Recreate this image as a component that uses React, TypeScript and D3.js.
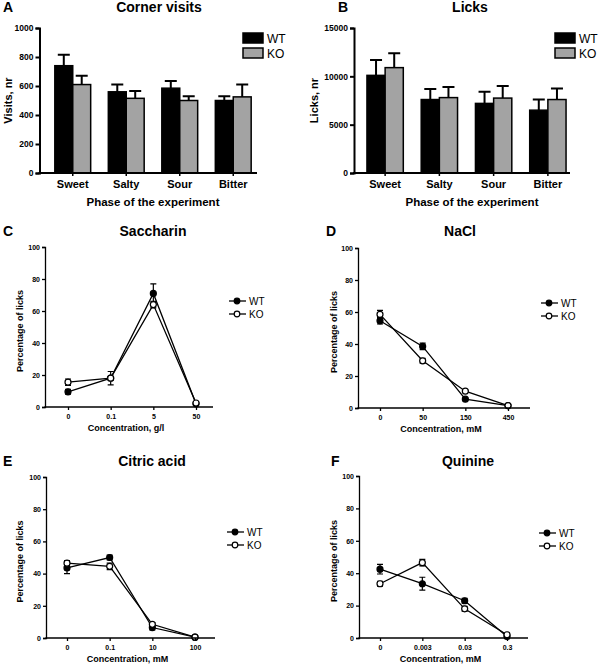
import * as d3 from "d3";
import { useEffect, useRef } from "react";

// bar panels (A, B)
const phases = ["Sweet", "Salty", "Sour", "Bitter"];
const visitsWT = [740, 560, 585, 500];
const visitsWTErr = [75, 50, 50, 30];
const visitsKO = [610, 515, 500, 525];
const visitsKOErr = [60, 50, 30, 85];
const visitsTicks = [0, 200, 400, 600, 800, 1000];

const licksWT = [10100, 7600, 7200, 6500];
const licksWTErr = [1600, 1100, 1200, 1100];
const licksKO = [10900, 7800, 7750, 7600];
const licksKOErr = [1500, 1100, 1250, 1150];
const licksTicks = [0, 5000, 10000, 15000];

// line panels (C-F), percentage of licks
const pctTicks = [0, 20, 40, 60, 80, 100];

const saccharinConc = ["0", "0.1", "5", "50"];
const saccharinWT = [9.5, 18, 71, 2];
const saccharinWTErr = [1.5, 4.2, 6, 0.5];
const saccharinKO = [15.5, 18, 64, 2.5];
const saccharinKOErr = [2, 1, 2, 0.5];

const naclConc = ["0", "50", "150", "450"];
const naclWT = [54.5, 38.5, 5.5, 1.5];
const naclWTErr = [2, 2, 0.5, 0.5];
const naclKO = [58.5, 29.5, 10.5, 1.5];
const naclKOErr = [2.5, 1.5, 0.5, 0.5];

const citricConc = ["0", "0.1", "10", "100"];
const citricWT = [43.5, 50, 6.5, 0.5];
const citricWTErr = [3.5, 1.5, 1.5, 0.3];
const citricKO = [46.5, 44.5, 8.5, 0.5];
const citricKOErr = [1.5, 2, 1, 0.3];

const quinineConc = ["0", "0.003", "0.03", "0.3"];
const quinineWT = [42.5, 33.5, 23, 1];
const quinineWTErr = [3, 4, 1.5, 0.5];
const quinineKO = [33.5, 46.5, 18, 2];
const quinineKOErr = [1.5, 2, 1.5, 0.5];

const FONT = "'Liberation Sans', Arial, Helvetica, sans-serif";
const KO_GREY = "#a3a3a3";

function text(g, x, y, str, size, opts: any = {}) {
  const t = g
    .append("text")
    .attr("x", x)
    .attr("y", y)
    .attr("font-family", FONT)
    .attr("font-size", size)
    .attr("font-weight", opts.weight || "bold")
    .attr("text-anchor", opts.anchor || "start")
    .attr("fill", "#000")
    .text(str);
  if (opts.rotate) t.attr("transform", `rotate(-90,${x},${y})`);
  return t;
}

function drawBarPanel(svg, p) {
  const g = svg.append("g");
  const x = d3
    .scaleBand()
    .domain(phases)
    .range(p.band)
    .paddingInner(0.33)
    .paddingOuter(0.165);
  const y = d3
    .scaleLinear()
    .domain([0, p.ticks[p.ticks.length - 1]])
    .range([p.bottom, p.top]);
  const bw = x.bandwidth() / 2;

  const series = [
    { vals: p.wt, errs: p.wtErr, fill: "#000", off: 0 },
    { vals: p.ko, errs: p.koErr, fill: KO_GREY, off: bw },
  ];

  series.forEach((s) => {
    // error bars (upper only)
    g.append("g")
      .selectAll("path")
      .data(phases)
      .join("path")
      .attr("d", (c, i) => {
        const cx = x(c) + s.off + bw / 2;
        const yt = y(s.vals[i] + s.errs[i]);
        return `M${cx},${y(s.vals[i])}V${yt}M${cx - 6},${yt}H${cx + 6}`;
      })
      .attr("stroke", "#000")
      .attr("stroke-width", 2)
      .attr("fill", "none");

    g.append("g")
      .selectAll("rect")
      .data(phases)
      .join("rect")
      .attr("x", (c) => x(c) + s.off)
      .attr("y", (c, i) => y(s.vals[i]))
      .attr("width", bw)
      .attr("height", (c, i) => y(0) - y(s.vals[i]))
      .attr("fill", s.fill)
      .attr("stroke", "#000")
      .attr("stroke-width", 1.5);
  });

  const yAxis = g
    .append("g")
    .attr("transform", `translate(${p.axisX},0)`)
    .call(
      d3
        .axisLeft(y)
        .tickValues(p.ticks)
        .tickFormat(d3.format("d"))
        .tickSizeOuter(0)
        .tickSize(4)
        .tickPadding(2)
    );
  yAxis.select(".domain").attr("stroke-width", 2);
  yAxis.selectAll(".tick line").attr("stroke-width", 2);
  yAxis
    .selectAll(".tick text")
    .attr("font-family", FONT)
    .attr("font-size", 8.5)
    .attr("font-weight", "bold");

  const xAxis = g
    .append("g")
    .attr("transform", `translate(0,${p.bottom})`)
    .call(d3.axisBottom(x).tickSize(3).tickPadding(4));
  xAxis.select(".domain").remove();
  xAxis.selectAll(".tick line").attr("stroke-width", 1.5);
  xAxis
    .selectAll(".tick text")
    .attr("font-family", FONT)
    .attr("font-size", 11)
    .attr("font-weight", "bold");
  g.append("line")
    .attr("x1", p.axisX - 1)
    .attr("x2", p.xEnd)
    .attr("y1", p.bottom)
    .attr("y2", p.bottom)
    .attr("stroke", "#000")
    .attr("stroke-width", 2);

  text(g, p.letterX, 12, p.letter, 14);
  text(g, p.titleX, 12, p.title, 14, { anchor: "middle" });
  text(g, p.yLabelX, (p.top + p.bottom) / 2, p.yLabel, 11, {
    anchor: "middle",
    rotate: true,
  });
  text(g, p.xTitleX, 206, "Phase of the experiment", 11.5, {
    anchor: "middle",
  });

  // legend
  [
    { name: "WT", fill: "#000", y: 33 },
    { name: "KO", fill: KO_GREY, y: 48 },
  ].forEach((l) => {
    g.append("rect")
      .attr("x", p.legendX)
      .attr("y", l.y)
      .attr("width", 20)
      .attr("height", 10)
      .attr("fill", l.fill)
      .attr("stroke", "#000")
      .attr("stroke-width", 1.5);
    text(g, p.legendX + 24, l.y + 9.5, l.name, 12, { weight: "normal" });
  });
}

function drawLinePanel(svg, p) {
  const g = svg.append("g");
  const x = d3.scalePoint().domain(p.conc).range(p.points);
  const y = d3.scaleLinear().domain([0, 100]).range([p.bottom, p.top]);

  const series = [
    { vals: p.wt, errs: p.wtErr, fill: "#000" },
    { vals: p.ko, errs: p.koErr, fill: "#fff" },
  ];

  const line = d3
    .line<number>()
    .x((d, i) => x(p.conc[i]))
    .y((d) => y(d));

  series.forEach((s) => {
    g.append("path")
      .attr("d", line(s.vals))
      .attr("fill", "none")
      .attr("stroke", "#000")
      .attr("stroke-width", 1.3);
    g.append("g")
      .selectAll("path")
      .data(p.conc)
      .join("path")
      .attr("d", (c, i) => {
        const cx = x(c);
        const lo = y(s.vals[i] - s.errs[i]);
        const hi = y(s.vals[i] + s.errs[i]);
        return `M${cx},${lo}V${hi}M${cx - 3},${lo}H${cx + 3}M${cx - 3},${hi}H${cx + 3}`;
      })
      .attr("stroke", "#000")
      .attr("stroke-width", 1.2)
      .attr("fill", "none");
  });

  series.forEach((s) => {
    g.append("g")
      .selectAll("circle")
      .data(p.conc)
      .join("circle")
      .attr("cx", (c) => x(c))
      .attr("cy", (c, i) => y(s.vals[i]))
      .attr("r", 3)
      .attr("fill", s.fill)
      .attr("stroke", "#000")
      .attr("stroke-width", 1.2);
  });

  const yAxis = g
    .append("g")
    .attr("transform", `translate(${p.axisX},0)`)
    .call(
      d3
        .axisLeft(y)
        .tickValues(pctTicks)
        .tickSizeOuter(0)
        .tickSize(3)
        .tickPadding(2)
    );
  yAxis.select(".domain").attr("stroke-width", 1.3);
  yAxis.selectAll(".tick line").attr("stroke-width", 1.3);
  yAxis
    .selectAll(".tick text")
    .attr("font-family", FONT)
    .attr("font-size", 7)
    .attr("font-weight", "bold");

  const xAxis = g
    .append("g")
    .attr("transform", `translate(0,${p.bottom})`)
    .call(d3.axisBottom(x).tickSize(3).tickPadding(4));
  xAxis.select(".domain").remove();
  xAxis.selectAll(".tick line").attr("stroke-width", 1.3);
  xAxis
    .selectAll(".tick text")
    .attr("font-family", FONT)
    .attr("font-size", 7)
    .attr("font-weight", "bold");
  g.append("line")
    .attr("x1", p.axisX - 0.6)
    .attr("x2", p.xEnd)
    .attr("y1", p.bottom)
    .attr("y2", p.bottom)
    .attr("stroke", "#000")
    .attr("stroke-width", 1.3);

  text(g, p.letterX, p.titleY, p.letter, 14);
  text(g, p.titleX, p.titleY, p.title, 14, { anchor: "middle" });
  text(g, p.yLabelX, (p.top + p.bottom) / 2 + 4, "Percentage of licks", 9, {
    anchor: "middle",
    rotate: true,
  });
  text(g, (p.axisX + p.xEnd) / 2 - 3, p.bottom + 24, p.xTitle, 9, {
    anchor: "middle",
  });

  // legend
  [
    { name: "WT", fill: "#000", y: p.legendY },
    { name: "KO", fill: "#fff", y: p.legendY + 13 },
  ].forEach((l) => {
    g.append("line")
      .attr("x1", p.legendX)
      .attr("x2", p.legendX + 17)
      .attr("y1", l.y)
      .attr("y2", l.y)
      .attr("stroke", "#000")
      .attr("stroke-width", 1.3);
    g.append("circle")
      .attr("cx", p.legendX + 8)
      .attr("cy", l.y)
      .attr("r", 2.8)
      .attr("fill", l.fill)
      .attr("stroke", "#000")
      .attr("stroke-width", 1.2);
    text(g, p.legendX + 20, l.y + 3.5, l.name, 10, { weight: "normal" });
  });
}

export default function App() {
  const ref = useRef<SVGSVGElement>(null);

  useEffect(() => {
    const svg = d3.select(ref.current);
    svg.selectAll("*").remove();

    drawBarPanel(svg, {
      letter: "A", letterX: 3, title: "Corner visits", titleX: 159,
      wt: visitsWT, wtErr: visitsWTErr, ko: visitsKO, koErr: visitsKOErr,
      ticks: visitsTicks, yLabel: "Visits, nr", yLabelX: 12,
      axisX: 39.5, xEnd: 257, band: [46, 260], top: 28, bottom: 173,
      xTitleX: 153, legendX: 243,
    });
    drawBarPanel(svg, {
      letter: "B", letterX: 338, title: "Licks", titleX: 470,
      wt: licksWT, wtErr: licksWTErr, ko: licksKO, koErr: licksKOErr,
      ticks: licksTicks, yLabel: "Licks, nr", yLabelX: 318,
      axisX: 354, xEnd: 570, band: [358, 575], top: 28, bottom: 173,
      xTitleX: 472, legendX: 555,
    });

    drawLinePanel(svg, {
      letter: "C", letterX: 3, title: "Saccharin", titleX: 153, titleY: 236,
      conc: saccharinConc, wt: saccharinWT, wtErr: saccharinWTErr,
      ko: saccharinKO, koErr: saccharinKOErr, xTitle: "Concentration, g/l",
      axisX: 45, xEnd: 213, points: [68, 196], top: 247, bottom: 407,
      yLabelX: 23, legendX: 229, legendY: 301,
    });
    drawLinePanel(svg, {
      letter: "D", letterX: 326, title: "NaCl", titleX: 460, titleY: 236,
      conc: naclConc, wt: naclWT, wtErr: naclWTErr,
      ko: naclKO, koErr: naclKOErr, xTitle: "Concentration, mM",
      axisX: 358, xEnd: 530, points: [380, 508], top: 248, bottom: 408,
      yLabelX: 337, legendX: 541, legendY: 303,
    });
    drawLinePanel(svg, {
      letter: "E", letterX: 3, title: "Citric acid", titleX: 152, titleY: 466,
      conc: citricConc, wt: citricWT, wtErr: citricWTErr,
      ko: citricKO, koErr: citricKOErr, xTitle: "Concentration, mM",
      axisX: 46, xEnd: 215, points: [67, 195], top: 477, bottom: 638,
      yLabelX: 23, legendX: 227, legendY: 532,
    });
    drawLinePanel(svg, {
      letter: "F", letterX: 331, title: "Quinine", titleX: 468, titleY: 466,
      conc: quinineConc, wt: quinineWT, wtErr: quinineWTErr,
      ko: quinineKO, koErr: quinineKOErr, xTitle: "Concentration, mM",
      axisX: 359, xEnd: 528, points: [380, 507], top: 476, bottom: 638,
      yLabelX: 337, legendX: 539, legendY: 533,
    });
  }, []);

  return (
    <svg
      ref={ref}
      width={600}
      height={665}
      style={{ position: "absolute", left: 0, top: 0, background: "#fff" }}
    />
  );
}
